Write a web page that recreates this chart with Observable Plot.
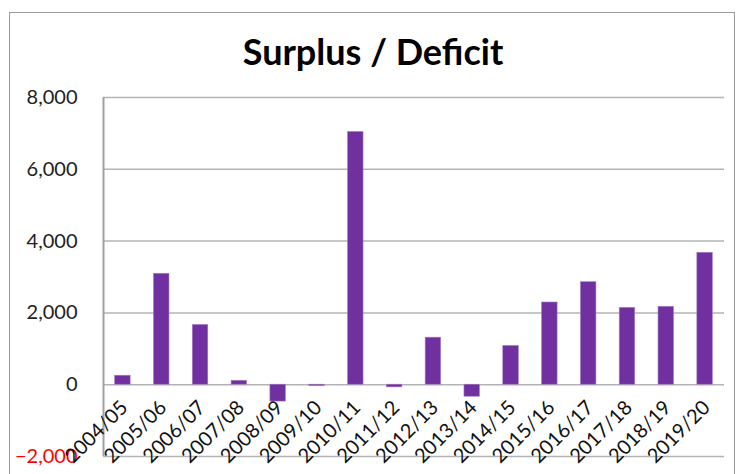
<!DOCTYPE html>
<html>
<head>
<meta charset="utf-8">
<script src="https://cdn.jsdelivr.net/npm/d3@7"></script>
<script src="https://cdn.jsdelivr.net/npm/@observablehq/plot@0.6"></script>
<style>
  html, body { margin: 0; padding: 0; background: #fff; }
  #wrap { position: relative; width: 741px; height: 474px; overflow: hidden; }
  #border { position: absolute; left: 9px; top: 12px; width: 726px; height: 470px; border: 1.5px solid #9a9a9a; box-sizing: border-box; }
  #chart { position: absolute; left: 0; top: 0; z-index: 1; }
  svg text { font-family: Lato, "Open Sans", sans-serif; }
</style>
</head>
<body>
<div id="wrap"><div id="border"></div><div id="chart"></div></div>
<script>
const title = "Surplus / Deficit";
const years = ["2004/05","2005/06","2006/07","2007/08","2008/09","2009/10","2010/11","2011/12","2012/13","2013/14","2014/15","2015/16","2016/17","2017/18","2018/19","2019/20"];
const values = [250, 3090, 1665, 110, -470, -40, 7040, -75, 1310, -335, 1080, 2290, 2855, 2140, 2170, 3675];
const yTicks = [-2000, 0, 2000, 4000, 6000, 8000];

const data = years.map((y, i) => ({year: y, value: values[i], i}));
const fmt = d3.format(",");
const W = 741, H = 474, ML = 103, MR = 17, MT = 97, MB = 18;
const barHalf = 0.2; // half of bar width in category units

const chart = Plot.plot({
  width: W,
  height: H,
  marginLeft: ML,
  marginRight: MR,
  marginTop: MT,
  marginBottom: MB,
  style: {background: "transparent", overflow: "visible"},
  x: {type: "linear", domain: [0, years.length], axis: null},
  y: {domain: [-2000, 8000], axis: null},
  marks: [
    Plot.ruleY(yTicks, {stroke: "#b4b4b4", strokeWidth: 1.5}),
    Plot.ruleX([0], {stroke: "#a0a0a0", strokeWidth: 2}),
    Plot.rect(data, {x1: d => d.i + 0.5 - barHalf, x2: d => d.i + 0.5 + barHalf, y1: () => 0, y2: "value", fill: "#7030A0", stroke: "#a87fc8", strokeWidth: 0.6}),
    Plot.text(yTicks, {y: d => d, text: d => fmt(d), frameAnchor: "left", dx: -26, textAnchor: "end", fontSize: 20, fill: d => d < 0 ? "#ff0000" : "#222"}),
    Plot.text(data, {x: d => d.i + 0.5, y: () => 0, text: "year", rotate: -45, textAnchor: "end", lineAnchor: "top", dx: -4, dy: 14, fontSize: 20, fill: "#111"}),
    Plot.text([title], {frameAnchor: "top", dy: -58, dx: -41, fontSize: 36, fontWeight: "bold", letterSpacing: "1px", fill: "#000"})
  ]
});
document.getElementById("chart").appendChild(chart);
</script>
</body>
</html>
